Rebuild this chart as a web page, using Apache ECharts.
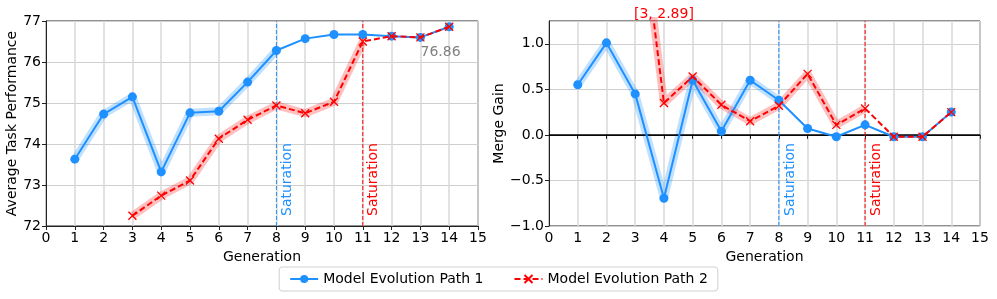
<!DOCTYPE html>
<html>
<head>
<meta charset="utf-8">
<script src="https://cdn.jsdelivr.net/npm/echarts@6/dist/echarts.min.js"></script>
<style>html,body{margin:0;padding:0;background:#fff}#c{width:997px;height:299px}</style>
</head>
<body>
<div id="c"></div>
<script>
// ---- data ----
var gen1 = [1,2,3,4,5,6,7,8,9,10,11,12,13,14];
var perf1 = [73.63,74.73,75.15,73.32,74.76,74.80,75.51,76.28,76.57,76.67,76.67,76.63,76.60,76.86];
var gen2 = [3,4,5,6,7,8,9,10,11,12,13,14];
var perf2 = [72.25,72.74,73.11,74.13,74.59,74.94,74.75,75.03,76.50,76.63,76.60,76.86];
var gain1 = [0.55,1.01,0.45,-0.695,0.60,0.04,0.60,0.38,0.07,-0.02,0.11,-0.02,-0.02,0.25];
var gain2 = [2.89,0.35,0.64,0.33,0.15,0.32,0.67,0.11,0.29,-0.02,-0.02,0.25];
var xRange = [0,15,1];
var perfRange = [72,77,1];
var gainRange = [-1,1.25,0.5];
var sat1 = 8, sat2 = 11;
var seriesNames = ['Model Evolution Path 1','Model Evolution Path 2'];

var BLUE = '#1E90FF', RED = '#FF0000';
var FONT = 'DejaVu Sans';
var FS = 14;
function pairs(xs, ys){ return xs.map(function(x,i){return [x, ys[i]];}); }
function upto(xs, ys, lim){ return pairs(xs,ys).filter(function(p){return p[0] <= lim;}); }

var chart = echarts.init(document.getElementById('c'), null, {renderer:'canvas'});
var grids = [
  {left:46, top:21, width:432, height:205, show:true, borderColor:'#222', borderWidth:1},
  {left:549, top:21, width:431, height:205, show:true, borderColor:'#222', borderWidth:1}
];
function xAxis(i){
  return {gridIndex:i, type:'value', min:xRange[0], max:xRange[1], interval:xRange[2],
    name:'Generation', nameLocation:'middle', nameGap:18,
    nameTextStyle:{fontFamily:FONT, fontSize:FS, color:'#000'},
    axisLine:{show:true, lineStyle:{color:'#222'}},
    axisTick:{show:true, length:4, lineStyle:{color:'#222'}},
    axisLabel:{fontFamily:FONT, fontSize:FS, color:'#000', margin:5},
    splitLine:{show:true, lineStyle:{color:'#d8d8d8', width:1.5}}};
}
var yAxes = [
  {gridIndex:0, type:'value', min:perfRange[0], max:perfRange[1], interval:perfRange[2],
    name:'Average Task Performance', nameLocation:'middle', nameGap:25,
    nameTextStyle:{fontFamily:FONT, fontSize:FS, color:'#000'},
    axisLine:{show:true, lineStyle:{color:'#222'}},
    axisTick:{show:true, length:4, lineStyle:{color:'#222'}},
    axisLabel:{fontFamily:FONT, fontSize:FS, color:'#000', margin:5},
    splitLine:{show:true, lineStyle:{color:'#cfcfcf', width:1}}},
  {gridIndex:1, type:'value', min:gainRange[0], max:gainRange[1], interval:gainRange[2],
    name:'Merge Gain', nameLocation:'middle', nameGap:42,
    nameTextStyle:{fontFamily:FONT, fontSize:FS, color:'#000'},
    axisLine:{show:true, lineStyle:{color:'#222'}},
    axisTick:{show:true, length:4, lineStyle:{color:'#222'}},
    axisLabel:{fontFamily:FONT, fontSize:FS, color:'#000', margin:5, showMaxLabel:false,
      formatter:function(v){ return v.toFixed(1).replace('-', '\u2212'); }},
    splitLine:{show:true, lineStyle:{color:'#cfcfcf', width:1}}}
];
var XSYM = 'path://M0,0L10,10M10,0L0,10';
function bandSeries(i, data, color, name){
  return {name:name, type:'line', xAxisIndex:i, yAxisIndex:i, data:data, symbol:'none',
    lineStyle:{color:color, width:8}, silent:true, z:1, animation:false};
}
function refLine(i, data, color, type, width, name){
  return {name:name, type:'line', xAxisIndex:i, yAxisIndex:i, data:data, symbol:'none',
    lineStyle:{color:color, width:width, type:type}, silent:true, z:2, animation:false, clip:true};
}
function mainSeries(i, data, which){
  if (which === 0) {
    return {name:seriesNames[0], type:'line', xAxisIndex:i, yAxisIndex:i, data:data,
      symbol:'circle', symbolSize:9, itemStyle:{color:BLUE},
      lineStyle:{color:BLUE, width:2}, z:3, animation:false, clip:true};
  }
  return {name:seriesNames[1], type:'line', xAxisIndex:i, yAxisIndex:i, data:data,
    symbol:XSYM, symbolSize:8, itemStyle:{color:'rgba(255,0,0,0.25)', borderColor:RED, borderWidth:1.3},
    lineStyle:{color:RED, width:2, type:[6,3]}, z:5, animation:false, clip:true};
}

var s = [];
// left panel
s.push(bandSeries(0, upto(gen1, perf1, sat1), 'rgba(30,144,255,0.28)', 'b1L'));
s.push(refLine(0, [[sat1, perfRange[0]],[sat1, perfRange[1]]], BLUE, [4,2], 1, 'v1L'));
s.push(mainSeries(0, pairs(gen1, perf1), 0));
s.push(bandSeries(0, upto(gen2, perf2, sat2), 'rgba(255,0,0,0.25)', 'b2L'));
s.push(refLine(0, [[sat2, perfRange[0]],[sat2, perfRange[1]]], RED, [4,2], 1, 'v2L'));
s.push(mainSeries(0, pairs(gen2, perf2), 1));
// right panel
s.push(refLine(1, [[xRange[0], 0],[xRange[1], 0]], '#000', 'solid', 1.5, 'zeroR'));
s.push(bandSeries(1, upto(gen1, gain1, sat1), 'rgba(30,144,255,0.28)', 'b1R'));
s.push(refLine(1, [[sat1, gainRange[0]],[sat1, gainRange[1]]], BLUE, [4,2], 1, 'v1R'));
s.push(mainSeries(1, pairs(gen1, gain1), 0));
s.push(bandSeries(1, upto(gen2, gain2, sat2), 'rgba(255,0,0,0.25)', 'b2R'));
s.push(refLine(1, [[sat2, gainRange[0]],[sat2, gainRange[1]]], RED, [4,2], 1, 'v2R'));
s.push(mainSeries(1, pairs(gen2, gain2), 1));

chart.setOption({
  animation:false,
  textStyle:{fontFamily:FONT},
  grid:grids,
  xAxis:[xAxis(0), xAxis(1)],
  yAxis:yAxes,
  legend:{data:seriesNames, bottom:8, left:'center', itemWidth:28, itemHeight:10, itemGap:30,
    borderColor:'#d0d0d0', borderWidth:1, borderRadius:3, padding:[5,10],
    textStyle:{fontFamily:FONT, fontSize:FS, color:'#000'}},
  series:s
});

function px(g, pt){ return chart.convertToPixel({gridIndex:g}, pt); }
var g = [];
function satText(gi, x, ymin, color){
  var p = px(gi, [x, ymin]);
  g.push({type:'text', x:p[0]+4, y:p[1]-10, rotation:Math.PI/2, silent:true,
    style:{text:'Saturation', fill:color, font:FS + 'px "DejaVu Sans"', align:'left', verticalAlign:'top'}});
}
satText(0, sat1, perfRange[0], BLUE);
satText(0, sat2, perfRange[0], RED);
satText(1, sat1, gainRange[0], BLUE);
satText(1, sat2, gainRange[0], RED);
var pl = px(0, [13.7, 76.24]);
g.push({type:'text', x:pl[0], y:pl[1], silent:true,
  style:{text:perf1[perf1.length-1].toFixed(2), fill:'#808080', font:'14px "DejaVu Sans"', align:'center', verticalAlign:'middle'}});
var pa = px(1, [gen2[0]+1, gainRange[1]]);
g.push({type:'text', x:pa[0], y:pa[1]-7, silent:true,
  style:{text:'[' + gen2[0] + ', ' + gain2[0].toFixed(2) + ']', fill:RED, font:'14px "DejaVu Sans"', align:'center', verticalAlign:'middle'}});
chart.setOption({graphic:g});
</script>
</body>
</html>
